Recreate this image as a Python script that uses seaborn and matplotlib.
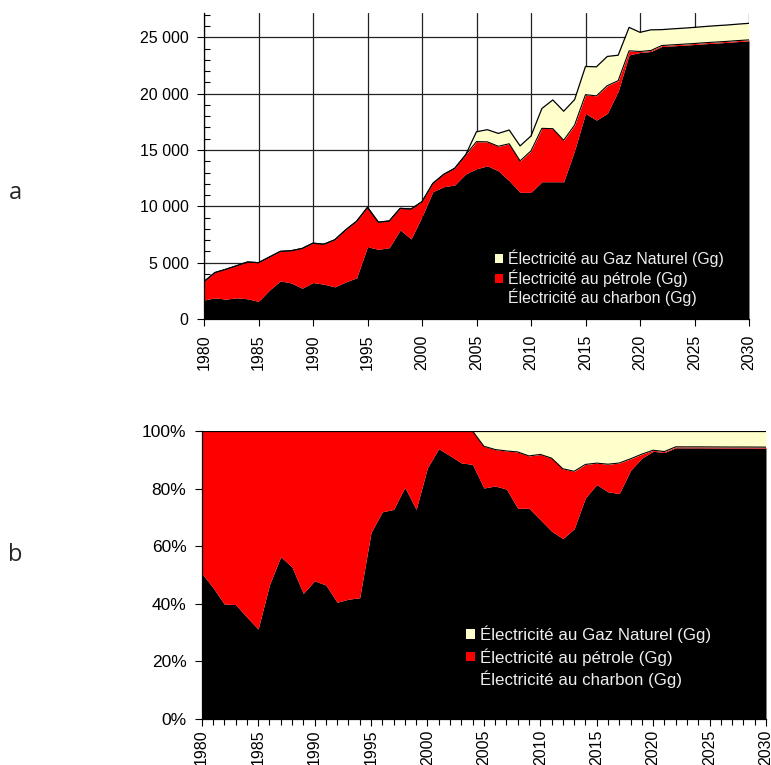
import numpy as np
import pandas as pd
import matplotlib
matplotlib.use("Agg")
import matplotlib.pyplot as plt
import seaborn as sns
from matplotlib.patches import Patch
from matplotlib.ticker import MultipleLocator, FuncFormatter

# Emissions of power generation by fuel, Gg
years = list(range(1980, 2031))

coal = [1680, 1880, 1760, 1880, 1790, 1560, 2560, 3380, 3200, 2730,
        3230, 3090, 2850, 3290, 3650, 6410, 6180, 6330, 7900, 7100,
        9080, 11300, 11740, 11890, 12870, 13330, 13590, 13150, 12270, 11240,
        11240, 12180, 12180, 12180, 14950, 18240, 17650, 18240, 20210, 23440,
        23650, 23740, 24180, 24240, 24300, 24360, 24430, 24490, 24550, 24620,
        24680]

oil = [1640, 2240, 2650, 2850, 3270, 3440, 2940, 2620, 2860, 3530,
       3500, 3550, 4180, 4620, 5020, 3500, 2410, 2370, 1920, 2660,
       1330, 740, 1100, 1480, 1690, 2410, 2130, 2180, 3280, 2790,
       3680, 4740, 4710, 3680, 2260, 1670, 2150, 2470, 940, 360,
       90, 90, 90, 90, 90, 90, 90, 90, 90, 90,
       90]

gas = [0, 0, 0, 0, 0, 0, 0, 0, 0, 0,
       0, 0, 0, 0, 0, 0, 0, 0, 0, 0,
       0, 0, 0, 0, 0, 880, 1080, 1140, 1220, 1330,
       1320, 1760, 2550, 2580, 2260, 2500, 2580, 2590, 2260, 2080,
       1700, 1830, 1410, 1420, 1420, 1430, 1440, 1450, 1450, 1460,
       1470]

labels = ["Électricité au charbon (Gg)",
          "Électricité au pétrole (Gg)",
          "Électricité au Gaz Naturel (Gg)"]
colors = ["#000000", "#ff0000", "#ffffcc"]

df = pd.DataFrame({"annee": years, "charbon": coal, "petrole": oil, "gaz": gas})
df = df.set_index("annee")
shares = df.div(df.sum(axis=1), axis=0) * 100

sns.set_theme(style="ticks")
plt.rcParams["font.family"] = ["Liberation Sans", "DejaVu Sans"]
plt.rcParams["axes.edgecolor"] = "black"
plt.rcParams["xtick.color"] = "black"
plt.rcParams["ytick.color"] = "black"

fig = plt.figure(figsize=(7.71, 7.65), dpi=100)
ax1 = fig.add_axes([204 / 771, 1 - 319 / 765, 545 / 771, 306.5 / 765])
ax2 = fig.add_axes([201.7 / 771, 1 - 719 / 765, 564.3 / 771, 288 / 765])


def draw_stack(ax, frame, top_lw, xpad):
    x = frame.index.values
    ax.stackplot(x, frame["charbon"], frame["petrole"], frame["gaz"],
                 colors=colors, linewidth=0, zorder=2)
    cum = frame.cumsum(axis=1)
    ax.plot(x, cum["petrole"], color="black", lw=0.8, zorder=3)
    ax.plot(x, cum["gaz"], color="black", lw=top_lw, zorder=3)
    ax.set_xlim(1980, 2030)
    ax.xaxis.set_major_locator(MultipleLocator(5))
    ax.tick_params(axis="x", which="major", rotation=90, labelsize=11.5,
                   length=5, width=0.8, direction="out", pad=xpad)
    ax.tick_params(axis="y", which="major", labelsize=11.5, length=5,
                   width=0.8, direction="out", pad=6)
    ax.tick_params(axis="y", which="minor", length=4, width=0.8,
                   direction="in")
    for side in ["top", "right"]:
        ax.spines[side].set_visible(False)
    for side in ["left", "bottom"]:
        ax.spines[side].set_linewidth(0.9)
    ax.set_xlabel("")
    ax.set_ylabel("")


def add_legend(anchor, size, spacing):
    handles = [Patch(facecolor=c, edgecolor="none") for c in colors[::-1]]
    leg = fig.legend(handles, labels[::-1], loc="upper left",
                     bbox_to_anchor=anchor, frameon=False, borderpad=0,
                     handlelength=0.5, handleheight=0.5, handletextpad=0.3,
                     labelspacing=spacing, fontsize=size)
    for t in leg.get_texts():
        t.set_color("#eeeeee")
    return leg


# Absolute values
draw_stack(ax1, df, 0.9, 6)
ax1.set_ylim(0, 27200)
ax1.yaxis.set_major_locator(MultipleLocator(5000))
ax1.yaxis.set_minor_locator(MultipleLocator(1000))
ax1.yaxis.set_major_formatter(
    FuncFormatter(lambda v, p: f"{int(v):,}".replace(",", " ")))
ax1.set_axisbelow(True)
ax1.grid(True, which="major", color="#222222", lw=0.9)
add_legend((487 / 771, 1 - 242 / 765), 11.4, 0.12)

# Shares of the total
draw_stack(ax2, shares, 1.6, 2.5)
ax2.set_ylim(0, 100)
ax2.yaxis.set_major_locator(MultipleLocator(20))
ax2.yaxis.set_minor_locator(MultipleLocator(4))
ax2.xaxis.set_minor_locator(MultipleLocator(1))
ax2.tick_params(axis="x", which="minor", length=4, width=0.8, direction="out")
ax2.yaxis.set_major_formatter(FuncFormatter(lambda v, p: f"{int(v)}%"))
ax2.tick_params(axis="y", which="major", labelsize=12.5)
ax2.grid(False)
add_legend((458 / 771, 1 - 617 / 765), 12.2, 0.3)

fig.text(15 / 771, 1 - 193 / 765, "a", fontsize=17, family="Open Sans",
         ha="center", va="center")
fig.text(15 / 771, 1 - 555 / 765, "b", fontsize=17, family="Open Sans",
         ha="center", va="center")

fig.savefig("out.png", dpi=100)
